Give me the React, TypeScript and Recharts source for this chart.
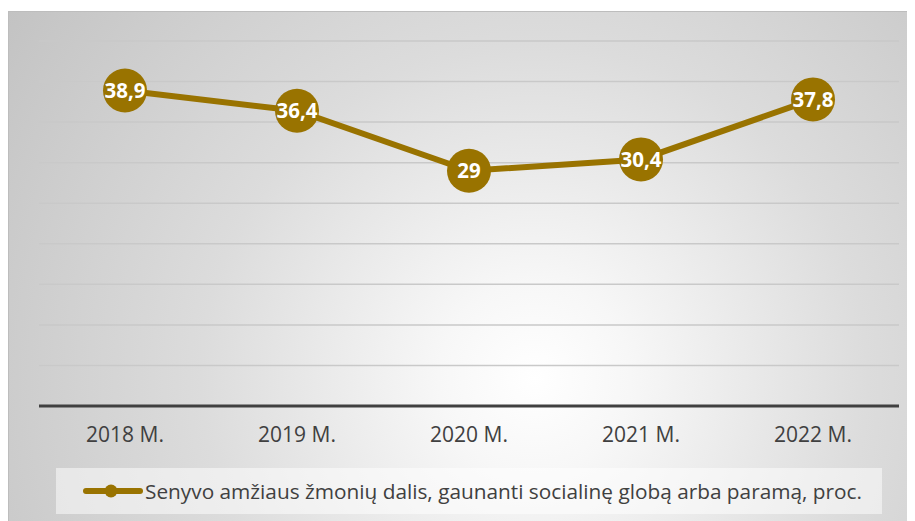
import React from 'react';
import { LineChart, Line, XAxis, YAxis, CartesianGrid, Legend, LabelList } from 'recharts';

const years = ['2018 M.', '2019 M.', '2020 M.', '2021 M.', '2022 M.'];
const shares = [38.9, 36.4, 29, 30.4, 37.8];
const yTicks = [0, 5, 10, 15, 20, 25, 30, 35, 40, 45];

const SERIES_NAME = 'Senyvo amžiaus žmonių dalis, gaunanti socialinę globą arba paramą, proc.';
const GOLD = '#997300';
const FONT = '"Open Sans", sans-serif';

const data = years.map((year, i) => ({ year, value: shares[i] }));

const LegendBox = () => (
    <div style={{
        height: 46,
        background: 'rgba(255,255,255,0.5)',
        display: 'flex',
        alignItems: 'center',
        paddingLeft: 27,
        fontFamily: FONT,
        fontSize: 20.8,
        color: '#404040',
        whiteSpace: 'nowrap'
    }}>
        <svg width={60} height={16} style={{ marginRight: 2 }}>
            <line x1={3} y1={8} x2={57} y2={8} stroke={GOLD} strokeWidth={6} strokeLinecap="round" />
            <circle cx={28} cy={8} r={6.5} fill={GOLD} />
        </svg>
        <span>{SERIES_NAME}</span>
    </div>
);

const App: React.FC = () => {
    return (
        <div style={{
            marginTop: 3,
            width: 907,
            height: 510,
            boxSizing: 'border-box',
            borderLeft: '1px solid #bdbdbd',
            borderTop: '1px solid #bdbdbd',
            background: 'radial-gradient(circle at 58% 72%, #ffffff 0%, #f7f7f7 15%, #dcdcdc 52%, #c3c3c3 100%)'
        }}>
            <LineChart width={907} height={510} data={data} margin={{ top: 29, right: 17, bottom: 8, left: 30 }}>
                <CartesianGrid vertical={false} stroke="#c9c9c9" strokeWidth={1.5} />
                <YAxis hide domain={[0, 45]} ticks={yTicks} />
                <XAxis
                    dataKey="year"
                    height={62}
                    padding={{ left: 86, right: 86 }}
                    axisLine={{ stroke: '#404040', strokeWidth: 3 }}
                    tickLine={false}
                    tickMargin={15}
                    tick={{ fill: '#404040', fontSize: 21, fontFamily: FONT }}
                />
                <Legend
                    verticalAlign="bottom"
                    content={<LegendBox />}
                    wrapperStyle={{ left: 47, width: 826, bottom: 8 }}
                />
                <Line
                    dataKey="value"
                    name={SERIES_NAME}
                    stroke={GOLD}
                    strokeWidth={6}
                    dot={{ r: 22, fill: GOLD, stroke: 'none' }}
                    activeDot={false}
                    isAnimationActive={false}
                >
                    <LabelList
                        dataKey="value"
                        position="center"
                        formatter={(v: number) => String(v).replace('.', ',')}
                        style={{ fill: '#ffffff', fontWeight: 700, fontSize: 20.5, fontFamily: FONT }}
                    />
                </Line>
            </LineChart>
        </div>
    );
};

export default App;
